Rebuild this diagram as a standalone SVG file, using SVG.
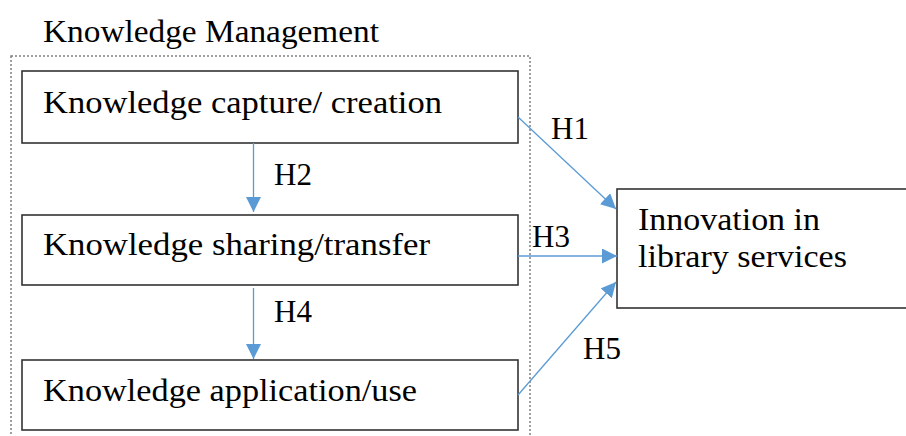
<svg xmlns="http://www.w3.org/2000/svg" width="906" height="436" viewBox="0 0 906 436">
  <style>
    .txt { font-family: "Liberation Serif", "Times New Roman", serif; font-size: 31px; fill: #000; }
    .box { fill: #fff; stroke: #333; stroke-width: 1.6; }
    .group { fill: none; stroke: #808080; stroke-width: 1.5; stroke-dasharray: 2 2; }
    .conn { fill: none; stroke: #5b9bd5; stroke-width: 1.3; marker-end: url(#arrow); }
  </style>
  <defs>
    <marker id="arrow" markerUnits="userSpaceOnUse" markerWidth="16" markerHeight="16" refX="15" refY="7.5" orient="auto">
      <path d="M0,0 L15,7.5 L0,15 z" fill="#5b9bd5"/>
    </marker>
  </defs>

  <rect width="906" height="436" fill="#fff"/>

  <!-- Knowledge management grouping -->
  <g id="km-group">
    <rect class="group" x="11" y="56" width="519" height="400"/>
    <text class="txt" x="43" y="42" textLength="336" lengthAdjust="spacingAndGlyphs">Knowledge Management</text>
  </g>

  <g id="capture">
    <rect class="box" x="22" y="71" width="496" height="72"/>
    <text class="txt" x="43" y="113" textLength="399" lengthAdjust="spacingAndGlyphs">Knowledge capture/ creation</text>
  </g>

  <g id="sharing">
    <rect class="box" x="22" y="215" width="496" height="70"/>
    <text class="txt" x="43" y="255" textLength="387" lengthAdjust="spacingAndGlyphs">Knowledge sharing/transfer</text>
  </g>

  <g id="application">
    <rect class="box" x="22" y="360" width="496" height="70"/>
    <text class="txt" x="43" y="401" textLength="374" lengthAdjust="spacingAndGlyphs">Knowledge application/use</text>
  </g>

  <g id="innovation">
    <rect class="box" x="617" y="189" width="300" height="119"/>
    <text class="txt" x="638" y="230" textLength="182" lengthAdjust="spacingAndGlyphs">Innovation in</text>
    <text class="txt" x="638" y="267" textLength="209" lengthAdjust="spacingAndGlyphs">library services</text>
  </g>

  <!-- Hypothesis connectors -->
  <g id="connectors">
    <line class="conn" x1="253.5" y1="143" x2="253.5" y2="212"/>
    <line class="conn" x1="253.5" y1="288" x2="253.5" y2="359"/>
    <line class="conn" x1="518" y1="117" x2="616" y2="209"/>
    <line class="conn" x1="518" y1="256" x2="617" y2="256"/>
    <line class="conn" x1="518" y1="395" x2="616" y2="282"/>
    <text class="txt" x="274" y="185">H2</text>
    <text class="txt" x="274" y="322">H4</text>
    <text class="txt" x="551" y="139">H1</text>
    <text class="txt" x="532" y="247">H3</text>
    <text class="txt" x="583" y="359">H5</text>
  </g>
</svg>
